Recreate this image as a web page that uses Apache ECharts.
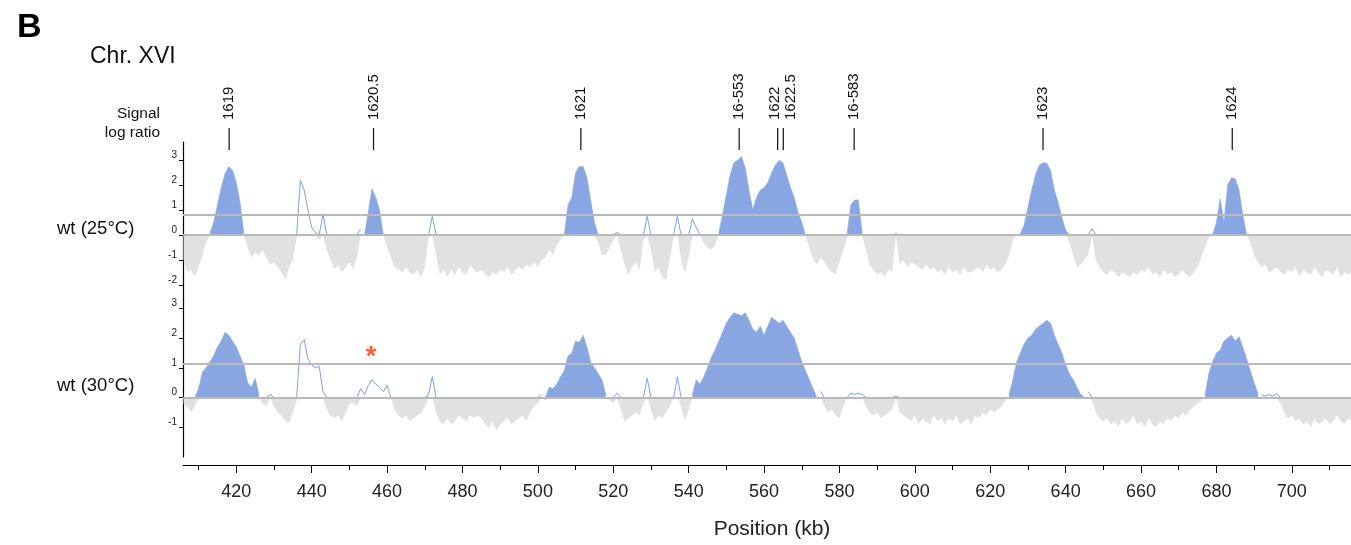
<!DOCTYPE html>
<html>
<head>
<meta charset="utf-8">
<script src="https://cdn.jsdelivr.net/npm/echarts@6/dist/echarts.min.js"></script>
<style>html,body{margin:0;padding:0;background:#fff}#main{width:1351px;height:545px}</style>
</head>
<body>
<div id="main"></div>
<script>
// probe values, one per kb starting at 406 kb
var POS_START = 406;

var wt25 = [
    -1.0, -1.5, -1.4, -1.7, -1.3, -0.8, -0.3, 0.05, 0.5, 1.2,
    1.9, 2.45, 2.75, 2.6, 2.1, 1.3, 0.05, -0.5, -0.9, -0.7,
    -0.8, -0.6, -0.9, -1.2, -1.1, -1.3, -1.5, -1.8, -1.3, -1.0,
    -0.1, 2.2, 1.8, 1.0, 0.3, 0.1, -0.2, 0.85, -0.6, -1.0,
    -1.4, -1.2, -1.5, -1.3, -1.1, -1.4, -0.9, 0.25, 0.0, 0.9,
    1.85, 1.5, 1.0, 0.0, -0.5, -0.9, -1.3, -1.4, -1.5, -1.3,
    -1.5, -1.6, -1.4, -1.7, -1.3, -0.1, 0.75, -0.8, -1.6, -1.4,
    -1.7, -1.4, -1.6, -1.3, -1.5, -1.6, -1.2, -1.4, -1.5, -1.4,
    -1.6, -1.7, -1.5, -1.6, -1.4, -1.5, -1.3, -1.6, -1.4, -1.3,
    -1.4, -1.2, -1.3, -1.1, -1.3, -1.0, -0.9, -0.6, -0.8, -0.4,
    -0.2, 0.0, 1.2, 1.5, 2.5, 2.75, 2.75, 2.3, 1.4, 0.5,
    -0.3, -0.8, -0.8, -0.5, -0.2, 0.1, -0.6, -1.2, -1.6, -1.3,
    -1.1, -1.4, -0.2, 0.75, -0.6, -1.5, -1.3, -1.7, -1.8, -1.0,
    -0.1, 0.75, -1.0, -1.5, -0.9, 0.65, 0.3, 0.0, -0.3, -0.5,
    -0.6, -0.4, 0.1, 0.8, 1.6, 2.4, 2.9, 3.0, 3.15, 2.7,
    1.8, 1.0, 1.5, 1.8, 1.9, 2.1, 2.5, 2.8, 3.0, 2.9,
    2.4, 1.9, 1.5, 0.9, 0.5, 0.0, -0.5, -1.0, -1.2, -0.9,
    -1.1, -1.3, -1.5, -1.6, -1.1, -0.6, -0.1, 1.2, 1.4, 1.4,
    0.1, -0.6, -1.2, -1.4, -1.6, -1.5, -1.7, -1.4, -1.5, 0.05,
    -1.2, -1.0, -1.3, -1.1, -1.2, -1.3, -1.4, -1.2, -1.4, -1.3,
    -1.5, -1.4, -1.6, -1.3, -1.5, -1.4, -1.6, -1.3, -1.5, -1.5,
    -1.4, -1.3, -1.5, -1.2, -1.4, -1.3, -1.5, -1.4, -1.2, -0.8,
    -0.2, 0.0, 0.05, 0.4, 1.1, 1.8, 2.4, 2.8, 2.9, 2.88,
    2.6, 1.8, 1.3, 0.7, 0.2, -0.3, -0.8, -1.3, -1.2, -1.0,
    -0.8, 0.25, -1.0, -1.3, -1.5, -1.6, -1.4, -1.5, -1.7, -1.5,
    -1.6, -1.7, -1.5, -1.6, -1.4, -1.5, -1.3, -1.6, -1.5, -1.7,
    -1.4, -1.6, -1.5, -1.7, -1.6, -1.4, -1.6, -1.7, -1.5, -1.3,
    -0.9, -0.5, -0.1, 0.0, 0.5, 1.45, 0.5, 2.0, 2.3, 2.25,
    1.8, 0.8, 0.0, -0.3, -0.8, -1.1, -1.3, -1.2, -1.5, -1.4,
    -1.3, -1.5, -1.6, -1.4, -1.5, -1.3, -1.7, -1.4, -1.5, -1.6,
    -1.3, -1.5, -1.7, -1.4, -1.5, -1.6, -1.3, -1.7, -1.5, -1.6,
    -1.4
];

var wt30 = [
    -0.2, -0.3, -0.5, -0.3, 0.3, 0.85, 1.0, 1.2, 1.4, 1.7,
    1.9, 2.2, 2.1, 1.9, 1.7, 1.4, 1.1, 0.5, 0.35, 0.65,
    0.1, -0.2, -0.3, 0.1, -0.3, -0.5, -0.6, -0.8, -0.85, -0.5,
    -0.1, 1.8, 1.95, 1.3, 1.1, 1.0, 1.05, 0.2, -0.4, -0.6,
    -0.7, -0.6, -0.8, -0.5, -0.2, -0.2, -0.3, 0.3, 0.1, 0.4,
    0.6, 0.45, 0.35, 0.2, 0.4, 0.0, -0.4, -0.6, -0.7, -0.6,
    -0.8, -0.7, -0.6, -0.5, -0.3, 0.1, 0.7, -0.5, -0.8, -0.9,
    -0.7, -0.9, -0.8, -0.6, -0.7, -0.8, -0.6, -0.7, -0.6, -0.7,
    -0.9, -1.0, -0.8, -1.1, -0.9, -0.8, -0.7, -0.9, -0.8, -0.7,
    -0.6, -0.8, -0.5, -0.3, -0.2, 0.1, -0.1, 0.35, 0.3, 0.45,
    0.7, 0.9, 1.4, 1.5, 1.9, 1.85, 2.1, 1.7, 1.2, 1.0,
    0.8, 0.6, 0.1, -0.1, -0.2, 0.15, -0.4, -0.8, -0.7, -0.6,
    -0.5, -0.6, -0.2, 0.65, -0.4, -0.8, -0.6, -0.7, -0.5, -0.3,
    0.0, 0.7, -0.3, -0.8, -0.4, 0.1, 0.6, 0.45, 0.7, 1.0,
    1.35, 1.6, 1.9, 2.2, 2.5, 2.7, 2.85, 2.8, 2.75, 2.85,
    2.6, 2.3, 2.2, 2.4, 2.1, 2.4, 2.7, 2.6, 2.5, 2.6,
    2.4, 2.2, 2.0, 1.6, 1.2, 0.9, 0.6, 0.3, 0.0, 0.2,
    -0.3, -0.5, -0.4, -0.6, -0.7, -0.3, 0.0, 0.15, 0.1, 0.15,
    0.1, -0.3, -0.5, -0.6, -0.5, -0.7, -0.6, -0.5, -0.4, 0.05,
    -0.5, -0.6, -0.7, -0.8, -0.6, -0.9, -0.7, -0.8, -0.9, -0.6,
    -0.8, -0.7, -0.9, -0.7, -0.8, -0.6, -0.9, -0.8, -0.7, -0.9,
    -0.6, -0.7, -0.5, -0.6, -0.4, -0.5, -0.4, -0.3, -0.1, 0.1,
    0.6, 1.2, 1.5, 1.8, 2.0, 2.1, 2.3, 2.4, 2.5, 2.6,
    2.5, 2.1, 1.8, 1.5, 1.1, 0.8, 0.6, 0.35, 0.1, 0.0,
    0.2, -0.1, -0.5, -0.7, -0.8, -0.7, -0.9, -0.8, -1.0, -0.7,
    -0.9, -0.8, -0.6, -0.9, -0.8, -1.0, -0.7, -0.9, -1.0, -0.8,
    -0.9, -0.7, -0.8, -0.6, -0.7, -0.5, -0.6, -0.4, -0.3, -0.2,
    -0.1, 0.1, 0.8, 1.2, 1.5, 1.6, 1.9, 2.0, 2.1, 1.9,
    2.05, 1.7, 1.3, 0.9, 0.5, 0.15, 0.1, 0.05, 0.1, 0.05,
    0.12, -0.2, -0.5, -0.7, -0.6, -0.8, -0.7, -0.9, -0.8, -1.0,
    -0.7, -0.9, -0.8, -0.7, -0.9, -0.8, -0.6, -0.8, -0.9, -0.7,
    -0.8
];

// called (filled) peak regions, kb
var peaks25 = [[413, 422], [454, 459], [507, 516], [548, 571], [582, 586], [627, 641], [679, 688]];
var peaks30 = [[409, 426], [502, 518], [541, 574], [625, 645], [677, 691]];
var threshold25 = 0.8;
var threshold30 = 1.13;

// ARS names above the top track
var peakPos = [418.1, 456.4, 511.4, 553.4, 563.6, 565.1, 583.9, 634.0, 684.2];
var peakNames = ['1619', '1620.5', '1621', '16-553', '1622', '1622.5', '16-583', '1623', '1624'];

var xMajor = [420, 440, 460, 480, 500, 520, 540, 560, 580, 600, 620, 640, 660, 680, 700];
var xMinor = [410, 430, 450, 470, 490, 510, 530, 550, 570, 590, 610, 630, 650, 670, 690, 710];
var yTicks25 = [-2, -1, 0, 1, 2, 3];
var yTicks30 = [-1, 0, 1, 2, 3];
var asterisk = [455.7, 1.5];

var FONT = '"Liberation Sans", Arial, sans-serif';
var BLUE = '#88a6e2';
var LINEBLUE = '#7f9fe6';
var GREY = '#e2e1e2';
var RULE = '#b9b9b9';
var labelShift = {'1622': -3, '1622.5': 8};

function inPeak(p, peaks) {
    for (var k = 0; k < peaks.length; k++) {
        if (p >= peaks[k][0] && p <= peaks[k][1]) return true;
    }
    return false;
}

// split one track into filled peaks, outlined positives and grey negatives
function split(vals, peaks) {
    var fill = [], outline = [], neg = [];
    for (var i = 0; i < vals.length; i++) {
        var p = POS_START + i, v = vals[i];
        neg.push([p, Math.min(v, 0)]);
        fill.push([p, inPeak(p, peaks) ? Math.max(v, 0) : null]);
        var o = null;
        if (!inPeak(p, peaks)) {
            if (v > 0) o = v;
            else if ((i > 0 && vals[i - 1] > 0 && !inPeak(p - 1, peaks)) ||
                     (i < vals.length - 1 && vals[i + 1] > 0 && !inPeak(p + 1, peaks))) o = 0;
        }
        outline.push([p, o]);
    }
    return {fill: fill, outline: outline, neg: neg};
}

function trackSeries(vals, peaks, threshold, idx) {
    var s = split(vals, peaks);
    return [{
        type: 'line', xAxisIndex: idx === 0 ? 0 : 1, yAxisIndex: idx,
        data: s.neg, symbol: 'none', z: 1,
        lineStyle: {width: 0}, areaStyle: {color: GREY, opacity: 1}
    }, {
        type: 'line', xAxisIndex: idx === 0 ? 0 : 1, yAxisIndex: idx,
        data: s.fill, symbol: 'none', connectNulls: false, z: 2,
        lineStyle: {width: 0.6, color: BLUE}, areaStyle: {color: BLUE, opacity: 1}
    }, {
        type: 'line', xAxisIndex: idx === 0 ? 0 : 1, yAxisIndex: idx,
        data: s.outline, symbol: 'none', connectNulls: false, z: 3,
        lineStyle: {width: 1, color: LINEBLUE},
        markLine: {
            silent: true, symbol: ['none', 'none'], label: {show: false},
            lineStyle: {color: RULE, width: 2, type: 'solid'},
            data: [{yAxis: 0}, {yAxis: threshold}]
        }
    }];
}

var xMin = 405.86, xMax = 715.7;

function yAxisFor(grid, min, max, ticks) {
    return {
        type: 'value', gridIndex: grid, min: min, max: max,
        splitLine: {show: false},
        axisLine: {show: true, onZero: false, lineStyle: {color: '#000', width: 1.2}},
        axisTick: {show: true, customValues: ticks, length: 4, lineStyle: {color: '#000'}},
        axisLabel: {customValues: ticks, fontSize: 10, margin: 6, color: '#222',
            fontFamily: FONT, verticalAlign: 'bottom'}
    };
}

var series = []
    .concat(trackSeries(wt25, peaks25, threshold25, 0))
    .concat(trackSeries(wt30, peaks30, threshold30, 1));

series.push({
    type: 'custom', xAxisIndex: 0, yAxisIndex: 0, clip: false, silent: true, z: 10,
    data: peakPos.map(function (p, i) { return [p, i]; }),
    renderItem: function (params, api) {
        var x = api.coord([api.value(0), 0])[0];
        var top = params.coordSys.y;
        var name = peakNames[api.value(1)];
        return {
            type: 'group',
            children: [{
                type: 'line',
                shape: {x1: x, y1: top - 14, x2: x, y2: top + 8},
                style: {stroke: '#111', lineWidth: 1.2}
            }, {
                type: 'text', x: x + (labelShift[name] || 0), y: top - 22, rotation: Math.PI / 2,
                style: {text: name, font: '15px ' + FONT, fill: '#111',
                    textAlign: 'left', textVerticalAlign: 'middle'}
            }]
        };
    }
});

series.push({
    type: 'scatter', xAxisIndex: 1, yAxisIndex: 1, z: 10, silent: true,
    data: [asterisk], symbol: 'circle', symbolSize: 2, itemStyle: {color: 'rgba(0,0,0,0)'},
    label: {show: true, formatter: '*', position: 'inside', offset: [0, 5],
        color: '#ff3300', fontSize: 27, fontWeight: 'bold', fontFamily: FONT}
});

var myChart = echarts.init(document.getElementById('main'));
var option = {
    backgroundColor: '#fff',
    animation: false,
    grid: [
        {left: 183, right: 0, top: 142, height: 156, outerBoundsMode: 'none'},
        {left: 183, right: 0, top: 298, height: 159, outerBoundsMode: 'none'}
    ],
    xAxis: [{
        type: 'value', gridIndex: 0, min: xMin, max: xMax, position: 'top',
        axisLine: {show: false, onZero: false}, axisTick: {show: false}, axisLabel: {show: false}, splitLine: {show: false}
    }, {
        type: 'value', gridIndex: 1, min: xMin, max: xMax, position: 'bottom', offset: 8,
        splitLine: {show: false},
        axisLine: {show: true, onZero: false, lineStyle: {color: '#000', width: 1.2}},
        axisTick: {show: true, customValues: xMajor, length: 8, lineStyle: {color: '#000'}},
        axisLabel: {customValues: xMajor, fontSize: 18, margin: 18, color: '#222', fontFamily: FONT},
        name: 'Position (kb)', nameLocation: 'middle', nameGap: 54,
        nameTextStyle: {fontSize: 21, color: '#222', fontFamily: FONT, padding: [0, 0, 0, 10]}
    }, {
        type: 'value', gridIndex: 1, min: xMin, max: xMax, position: 'bottom', offset: 8,
        splitLine: {show: false}, axisLine: {show: false, onZero: false},
        axisTick: {show: true, customValues: xMinor, length: 5, lineStyle: {color: '#000'}},
        axisLabel: {show: false}
    }],
    yAxis: [
        yAxisFor(0, -2.53, 3.73, yTicks25),
        yAxisFor(1, -2.0, 3.35, yTicks30)
    ],
    graphic: [
        {type: 'text', x: 17, y: 28, style: {text: 'B', font: 'bold 34px ' + FONT, fill: '#000', textVerticalAlign: 'middle'}},
        {type: 'text', x: 90, y: 57, style: {text: 'Chr. XVI', font: '23px ' + FONT, fill: '#111', textVerticalAlign: 'middle'}},
        {type: 'text', x: 160, y: 123, style: {text: 'Signal\nlog ratio', font: '15.5px ' + FONT, lineHeight: 19,
            fill: '#111', textAlign: 'right', textVerticalAlign: 'middle'}},
        {type: 'text', x: 57, y: 229, style: {text: 'wt (25°C)', font: '18.5px ' + FONT, fill: '#111', textVerticalAlign: 'middle'}},
        {type: 'text', x: 57, y: 386, style: {text: 'wt (30°C)', font: '18.5px ' + FONT, fill: '#111', textVerticalAlign: 'middle'}}
    ],
    series: series
};
myChart.setOption(option);
</script>
</body>
</html>
